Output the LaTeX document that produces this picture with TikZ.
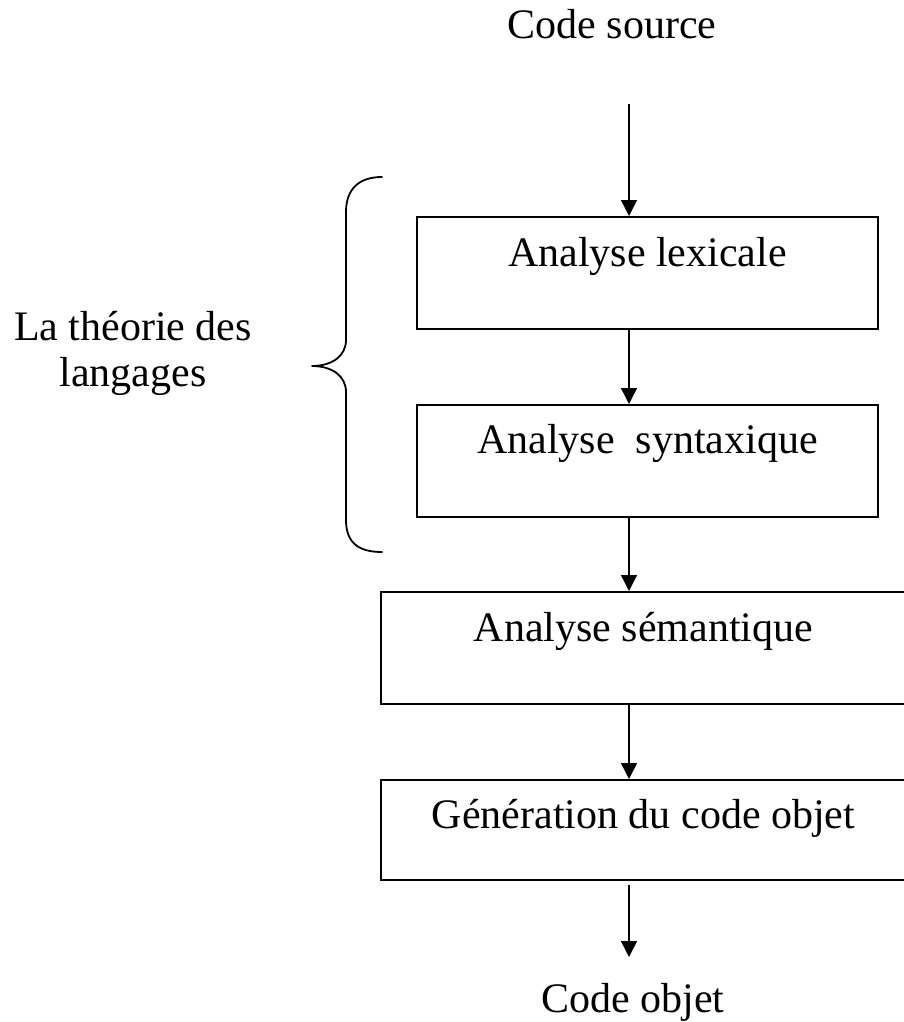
\documentclass[tikz,border=0pt]{standalone}
\usepackage{fontspec}
\setmainfont{Liberation Serif}
\usetikzlibrary{arrows.meta}
\begin{document}
\begin{tikzpicture}[x=1pt,y=-1pt,
  big/.style={font=\fontsize{42}{46}\selectfont},
  stage/.style={big, draw, line width=1.8pt, inner sep=0pt, anchor=north},
  lbl/.style={big, inner sep=0pt, anchor=base},
  flow/.style={line width=1.4pt, -{Triangle[length=16pt,width=16pt]}},
  brace/.style={line width=1.8pt, line join=round, line cap=round}]
\clip (0,0) rectangle (904,1022);

% stages of the compiler
\node[stage, minimum width=461pt, text height=50pt, text depth=62pt] (lex) at (647.5,216) {Analyse lexicale};
\node[stage, minimum width=461pt, text height=49pt, text depth=63pt] (syn) at (647.5,404) {Analyse\ \ syntaxique};
\node[stage, minimum width=525pt, text height=50pt, text depth=62pt] (sem) at (643.5,591) {Analyse sémantique};
\node[stage, minimum width=525pt, text height=49pt, text depth=51pt] (gen) at (643.5,779) {Génération du code objet};

% input and output
\node[lbl] (src) at (612,39) {Code source};
\node[lbl] (obj) at (633,1012) {Code objet};

% flow between the stages
\coordinate (ax) at (629,0);
\coordinate (in) at (629,104);
\coordinate (out) at (629,957);
\draw[flow] (in) -- (lex.north -| ax);
\draw[flow] (lex.south -| ax) -- (syn.north -| ax);
\draw[flow] (syn.south -| ax) -- (sem.north -| ax);
\draw[flow] (sem.south -| ax) -- (gen.north -| ax);
\draw[flow] ([yshift=-4pt]gen.south -| ax) -- (out);

% brace grouping the first two stages
\draw[brace] (382,177) .. controls (360,177) and (346,188) .. (346,212)
  -- (346,340) .. controls (346,356) and (332,366) .. (312,366)
  .. controls (332,366) and (346,376) .. (346,392)
  -- (346,520) .. controls (346,544) and (360,552) .. (382,552);
\node[lbl, align=center] (theory) at (133,386) {La théorie des\\langages};
\end{tikzpicture}
\end{document}
